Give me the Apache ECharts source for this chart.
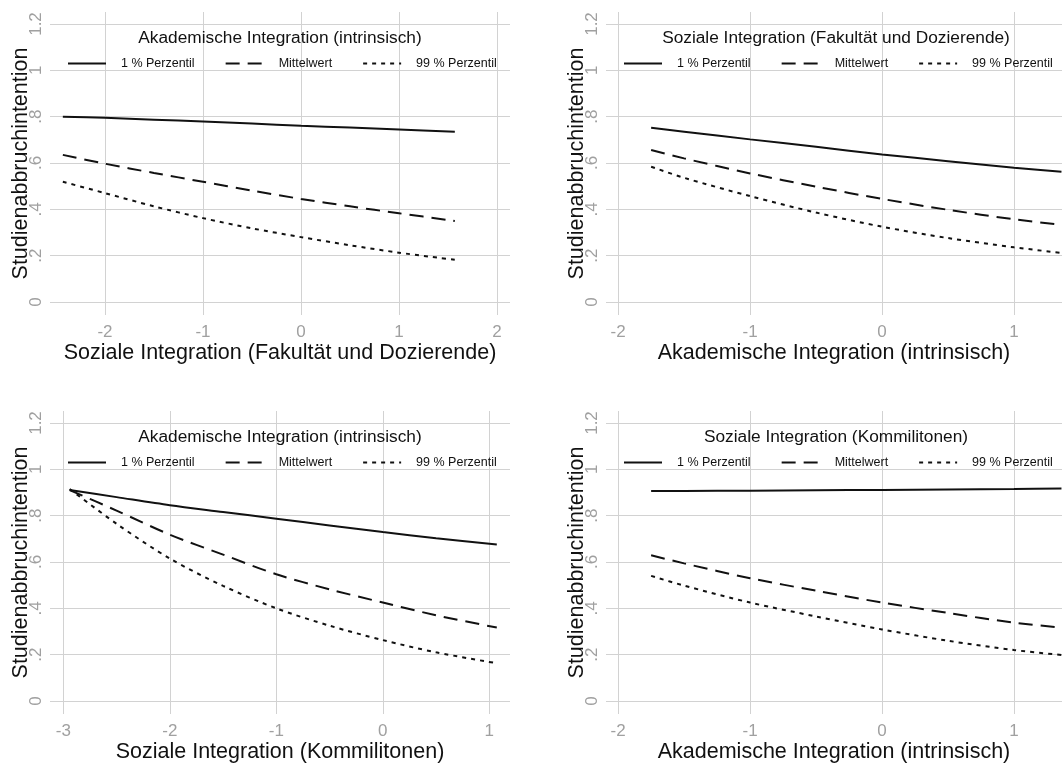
<!DOCTYPE html>
<html>
<head>
<meta charset="utf-8">
<script src="https://cdn.jsdelivr.net/npm/echarts@6/dist/echarts.min.js"></script>
<style>
  html, body { margin: 0; padding: 0; background: #ffffff; }
  #chart { width: 1062px; height: 764px; }
</style>
</head>
<body>
<div id="chart"></div>
<script>
// ---------- data ----------
const seriesNames = ['1 % Perzentil', 'Mittelwert', '99 % Perzentil'];
const panelTitles = [
  'Akademische Integration (intrinsisch)',
  'Soziale Integration (Fakultät und Dozierende)',
  'Akademische Integration (intrinsisch)',
  'Soziale Integration (Kommilitonen)'
];
const xAxisTitles = [
  'Soziale Integration (Fakultät und Dozierende)',
  'Akademische Integration (intrinsisch)',
  'Soziale Integration (Kommilitonen)',
  'Akademische Integration (intrinsisch)'
];
const yAxisTitle = 'Studienabbruchintention';
const yTickValues = [0, 0.2, 0.4, 0.6, 0.8, 1, 1.2];
const yTickLabels = ['0', '.2', '.4', '.6', '.8', '1', '1.2'];

// panel 1
const p1X    = [-2.43, -2, -1.5, -1, -0.5, 0, 0.5, 1, 1.57];
const p1Low  = [0.800, 0.795, 0.787, 0.779, 0.770, 0.761, 0.753, 0.745, 0.735];
const p1Mean = [0.635, 0.597, 0.557, 0.519, 0.481, 0.445, 0.413, 0.383, 0.350];
const p1High = [0.519, 0.470, 0.413, 0.362, 0.318, 0.280, 0.245, 0.213, 0.182];
// panel 2
const p2X    = [-1.75, -1.5, -1, -0.5, 0, 0.5, 1, 1.36];
const p2Low  = [0.752, 0.735, 0.702, 0.670, 0.637, 0.608, 0.580, 0.562];
const p2Mean = [0.656, 0.620, 0.555, 0.498, 0.445, 0.398, 0.357, 0.333];
const p2High = [0.584, 0.536, 0.457, 0.386, 0.325, 0.276, 0.236, 0.212];
// panel 3
const p3X    = [-2.94, -2.5, -2, -1.5, -1, -0.5, 0, 0.5, 1.07];
const p3Low  = [0.911, 0.880, 0.845, 0.816, 0.787, 0.758, 0.729, 0.703, 0.676];
const p3Mean = [0.910, 0.822, 0.718, 0.632, 0.547, 0.482, 0.425, 0.370, 0.317];
const p3High = [0.915, 0.765, 0.615, 0.497, 0.400, 0.325, 0.263, 0.210, 0.163];
// panel 4
const p4X    = [-1.75, -1.5, -1, -0.5, 0, 0.5, 1, 1.36];
const p4Low  = [0.906, 0.907, 0.908, 0.910, 0.911, 0.913, 0.915, 0.917];
const p4Mean = [0.629, 0.594, 0.530, 0.476, 0.425, 0.380, 0.338, 0.317];
const p4High = [0.540, 0.498, 0.425, 0.365, 0.309, 0.260, 0.220, 0.199];

// axis ranges
const xRanges = [[-2.561, 2.133], [-2.092, 1.364], [-3.125, 1.194], [-2.092, 1.364]];
const yRange = [-0.0561, 1.2518];

// ---------- layout ----------
const FONT = "'Liberation Sans', Arial, sans-serif";
const panels = [
  { x: p1X, ys: [p1Low, p1Mean, p1High] },
  { x: p2X, ys: [p2Low, p2Mean, p2High] },
  { x: p3X, ys: [p3Low, p3Mean, p3High] },
  { x: p4X, ys: [p4Low, p4Mean, p4High] }
];
const gridPos = [
  { left: 50, top: 12 },
  { left: 606, top: 12 },
  { left: 50, top: 411 },
  { left: 606, top: 411 }
];
const GW = 460, GH = 303;
const lineTypes = ['solid', [14, 8], [4, 5]];
const gridColor = '#d2d2d2';
const tickColor = '#a0a0a0';
const ink = '#111111';

const grids = [], xAxes = [], yAxes = [], series = [], titles = [], legends = [];
panels.forEach((p, i) => {
  const g = gridPos[i];
  grids.push({ left: g.left, top: g.top, width: GW, height: GH, containLabel: false });
  xAxes.push({
    gridIndex: i, type: 'value',
    min: xRanges[i][0], max: xRanges[i][1],
    minInterval: 1, maxInterval: 1,
    axisLine: { show: false }, axisTick: { show: false },
    axisLabel: { color: tickColor, fontSize: 17, fontFamily: FONT, margin: 9,
                 showMinLabel: false, showMaxLabel: false },
    splitLine: { show: true, showMinLine: false, showMaxLine: false,
                 lineStyle: { color: gridColor, width: 1 } },
    name: xAxisTitles[i], nameLocation: 'middle', nameGap: 22,
    nameTextStyle: { fontSize: 21.5, color: ink, fontFamily: FONT }
  });
  yAxes.push({
    gridIndex: i, type: 'value',
    min: yRange[0], max: yRange[1],
    minInterval: 0.2, maxInterval: 0.2,
    axisLine: { show: false }, axisTick: { show: false },
    axisLabel: {
      color: tickColor, fontSize: 17, fontFamily: FONT, rotate: 90, margin: 5,
      showMinLabel: false, showMaxLabel: false,
      formatter: v => {
        const k = yTickValues.findIndex(t => Math.abs(t - v) < 1e-6);
        return k >= 0 ? yTickLabels[k] : '';
      }
    },
    splitLine: { show: true, showMinLine: false, showMaxLine: false,
                 lineStyle: { color: gridColor, width: 1 } },
    name: yAxisTitle, nameLocation: 'middle', nameRotate: 90, nameGap: 18,
    nameMoveOverlap: false,
    nameTextStyle: { fontSize: 21.5, color: ink, fontFamily: FONT }
  });
  p.ys.forEach((ys, k) => {
    series.push({
      type: 'line', name: seriesNames[k],
      xAxisIndex: i, yAxisIndex: i,
      data: p.x.map((x, j) => [x, ys[j]]),
      symbol: 'none', smooth: 0.3, clip: true,
      lineStyle: { color: ink, width: 2, type: lineTypes[k] },
      itemStyle: { color: ink },
      silent: true, animation: false
    });
  });
  titles.push({
    text: panelTitles[i], left: g.left + GW / 2, top: g.top + 18,
    textAlign: 'center', padding: 0,
    textStyle: { fontSize: 17.3, fontWeight: 'normal', color: ink, fontFamily: FONT }
  });
  legends.push({
    data: seriesNames, left: g.left + 17, top: g.top + 45, padding: 0,
    orient: 'horizontal', itemWidth: 38, itemHeight: 14, itemGap: 30,
    selectedMode: false,
    itemStyle: { opacity: 0 },
    textStyle: { fontSize: 12.5, color: ink, fontFamily: FONT, padding: [0, 0, 0, 10] }
  });
});

const chart = echarts.init(document.getElementById('chart'), null, { renderer: 'canvas' });
chart.setOption({
  backgroundColor: '#ffffff',
  animation: false,
  title: titles,
  legend: legends,
  grid: grids,
  xAxis: xAxes,
  yAxis: yAxes,
  series: series
});
</script>
</body>
</html>
